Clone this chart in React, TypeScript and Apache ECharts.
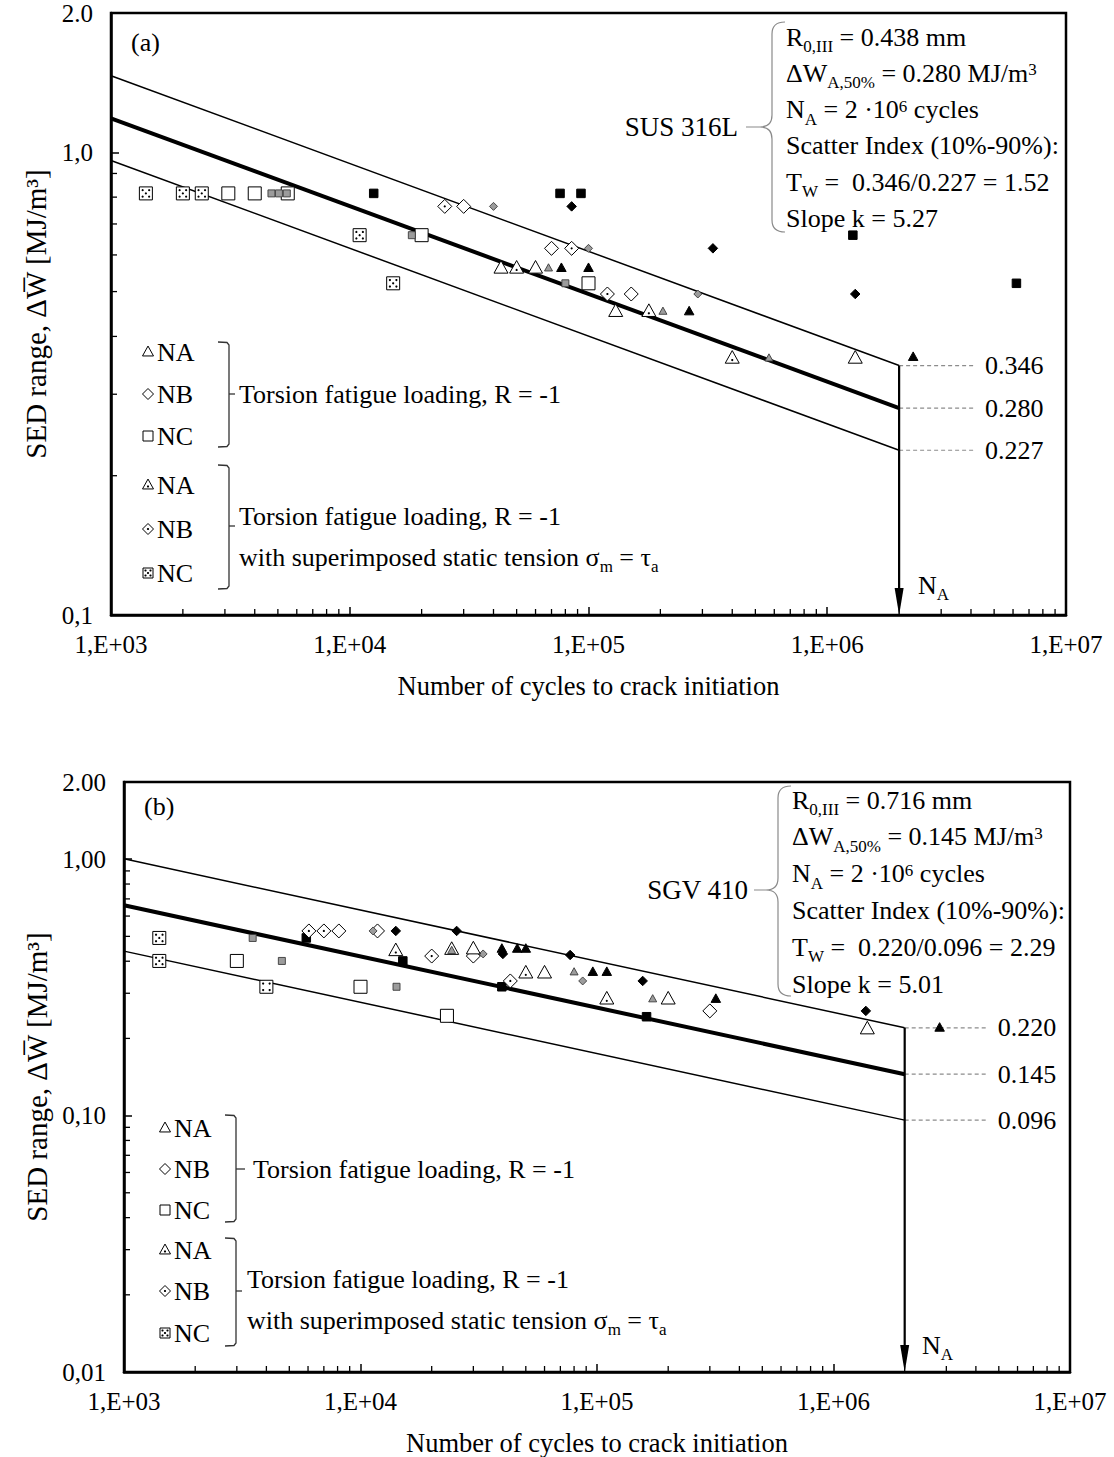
import React, { useEffect, useRef } from "react";
import * as echarts from "echarts";

const FONT = "'Liberation Serif', 'Times New Roman', Times, serif";

// ---------- shared axis data ----------
const X_MIN = 1e3;
const X_MAX = 1e7;
const X_TICK_LABELS = ["1,E+03", "1,E+04", "1,E+05", "1,E+06", "1,E+07"];
const X_DECADES = [1e3, 1e4, 1e5, 1e6];
const MINOR_MULTS = [2, 3, 4, 5, 6, 7, 8, 9];
const N_A = 2e6;

// ---------- panel (a) SUS 316L ----------
const A_Y_MIN = 0.1;
const A_Y_MAX = 2.0;
const A_Y_TICK_VALUES = [0.1, 1, 2];
const A_Y_TICK_LABELS = ["0,1", "1,0", "2.0"];
const A_Y_DECADES = [0.1];
const A_LEVELS = [0.346, 0.28, 0.227];
const A_LEVEL_LABELS = ["0.346", "0.280", "0.227"];
const A_DASH_END = 4.16e6;
const A_UPPER = [[1e3, 1.464], [2e6, 0.346]];
const A_MEDIAN = [[1e3, 1.184], [2e6, 0.28]];
const A_LOWER = [[1e3, 0.96], [2e6, 0.227]];

const aOpenTri = [[4.3e4, 0.562], [6.0e4, 0.562], [1.3e5, 0.453], [1.31e6, 0.359]];
const aDotTri = [[5.0e4, 0.562], [1.79e5, 0.453], [4.0e5, 0.359]];
const aGrayTri = [[6.8e4, 0.562], [2.05e5, 0.453], [5.7e5, 0.359]];
const aBlackTri = [[7.7e4, 0.562], [1.0e5, 0.562], [2.64e5, 0.453], [2.29e6, 0.361]];
const aOpenDia = [[3.0e4, 0.764], [7.0e4, 0.62], [1.51e5, 0.494]];
const aDotDia = [[2.5e4, 0.764], [8.5e4, 0.62], [1.2e5, 0.494]];
const aGrayDia = [[4.0e4, 0.764], [1.0e5, 0.62], [2.87e5, 0.494]];
const aBlackDia = [[8.5e4, 0.764], [3.32e5, 0.62], [1.31e6, 0.494]];
const aOpenSq = [[3.1e3, 0.815], [4.0e3, 0.815], [5.5e3, 0.815], [2.0e4, 0.662], [1.0e5, 0.521]];
const aDotSq = [[1.4e3, 0.815], [2.0e3, 0.815], [2.4e3, 0.815], [1.1e4, 0.662], [1.52e4, 0.521]];
const aGraySq = [[4.7e3, 0.815], [5.05e3, 0.815], [5.45e3, 0.815], [1.82e4, 0.662], [8.0e4, 0.521]];
const aBlackSq = [[1.26e4, 0.815], [7.6e4, 0.815], [9.3e4, 0.815], [1.28e6, 0.662], [6.2e6, 0.521]];

// ---------- panel (b) SGV 410 ----------
const B_Y_MIN = 0.01;
const B_Y_MAX = 2.0;
const B_Y_TICK_VALUES = [0.01, 0.1, 1, 2];
const B_Y_TICK_LABELS = ["0,01", "0,10", "1,00", "2.00"];
const B_Y_DECADES = [0.01, 0.1];
const B_LEVELS = [0.22, 0.145, 0.096];
const B_LEVEL_LABELS = ["0.220", "0.145", "0.096"];
const B_DASH_END = 4.49e6;
const B_UPPER = [[1e3, 1.003], [2e6, 0.22]];
const B_MEDIAN = [[1e3, 0.661], [2e6, 0.145]];
const B_LOWER = [[1e3, 0.438], [2e6, 0.096]];

const bOpenSq = [[3.0e3, 0.401], [1.0e4, 0.318], [2.32e4, 0.245]];
const bDotSq = [[1.41e3, 0.493], [1.41e3, 0.401], [4.0e3, 0.318]];
const bGraySq = [[3.5e3, 0.493], [4.65e3, 0.401], [1.42e4, 0.318]];
const bBlackSq = [[5.9e3, 0.493], [1.51e4, 0.401], [3.96e4, 0.318], [1.62e5, 0.243]];
const bOpenDia = [[8.1e3, 0.525], [1.18e4, 0.525], [3.0e4, 0.419], [3.0e5, 0.256]];
const bDotDia = [[6.05e3, 0.525], [7.0e3, 0.525], [2.0e4, 0.419], [4.3e4, 0.335]];
const bGrayDia = [[1.13e4, 0.525], [3.3e4, 0.427], [8.7e4, 0.335]];
const bBlackDia = [[1.41e4, 0.525], [2.55e4, 0.525], [4.0e4, 0.427], [7.7e4, 0.423], [1.56e5, 0.335], [1.37e6, 0.256]];
const bOpenTri = [[2.43e4, 0.445], [3.0e4, 0.447], [6.0e4, 0.36], [2.0e5, 0.285], [1.39e6, 0.218]];
const bDotTri = [[1.41e4, 0.44], [5.0e4, 0.36], [1.1e5, 0.285]];
const bGrayTri = [[2.43e4, 0.44], [8.0e4, 0.363], [1.72e5, 0.285]];
const bBlackTri = [[3.96e4, 0.447], [4.6e4, 0.447], [5.0e4, 0.447], [9.6e4, 0.363], [1.1e5, 0.363], [3.18e5, 0.285], [2.81e6, 0.22]];

// ---------- marker drawing ----------
const KINDS: Record<string, { size: number; fill: string; stroke: string; lw: number }> = {
  open: { size: 14, fill: "#fff", stroke: "#000", lw: 1 },
  dot: { size: 14, fill: "#fff", stroke: "#000", lw: 1 },
  gray: { size: 8, fill: "#9c9c9c", stroke: "#3a3a3a", lw: 0.9 },
  black: { size: 9.5, fill: "#000", stroke: "#000", lw: 1 },
};

function markerEl(shape: string, kind: string, x: number, y: number, sizeOverride?: number): any {
  const k = KINDS[kind];
  const s = sizeOverride ?? k.size;
  const st = { fill: k.fill, stroke: k.stroke, lineWidth: k.lw };
  const ch: any[] = [];
  const dot = (cx: number, cy: number) => ({ type: "circle", shape: { cx, cy, r: 1.1 }, style: { fill: "#000" } });
  if (shape === "tri") {
    const h = s * 0.9;
    ch.push({ type: "polygon", shape: { points: [[x, y - h * 0.6], [x - s / 2, y + h * 0.4], [x + s / 2, y + h * 0.4]] }, style: st });
    if (kind === "dot") ch.push(dot(x, y + h * 0.15));
  } else if (shape === "dia") {
    const r = s / 2;
    ch.push({ type: "polygon", shape: { points: [[x, y - r], [x + r, y], [x, y + r], [x - r, y]] }, style: st });
    if (kind === "dot") ch.push(dot(x, y));
  } else {
    const r = (s - 1) / 2;
    ch.push({ type: "rect", shape: { x: x - r, y: y - r, width: 2 * r, height: 2 * r }, style: st });
    if (kind === "dot") {
      const o = r * 0.5;
      ch.push(dot(x - o, y - o), dot(x + o, y - o), dot(x, y), dot(x - o, y + o), dot(x + o, y + o));
    }
  }
  return { type: "group", children: ch };
}

function markerSeries(ax: number, shape: string, kind: string, data: number[][]) {
  return {
    type: "custom",
    xAxisIndex: ax,
    yAxisIndex: ax,
    z: 5,
    silent: true,
    data,
    renderItem: (_p: any, api: any) => {
      const c = api.coord([api.value(0), api.value(1)]);
      return markerEl(shape, kind, c[0], c[1]);
    },
  };
}

function lineSeries(ax: number, data: number[][], width: number) {
  return {
    type: "line",
    xAxisIndex: ax,
    yAxisIndex: ax,
    z: 3,
    silent: true,
    symbol: "none",
    data,
    lineStyle: { color: "#000", width },
  };
}

function xMinorSeries(ax: number, yMin: number) {
  const data: number[][] = [];
  X_DECADES.forEach((d) => MINOR_MULTS.forEach((m) => data.push([d * m, yMin])));
  return {
    type: "custom",
    xAxisIndex: ax,
    yAxisIndex: ax,
    z: 6,
    silent: true,
    data,
    renderItem: (_p: any, api: any) => {
      const c = api.coord([api.value(0), api.value(1)]);
      return { type: "line", shape: { x1: c[0], y1: c[1], x2: c[0], y2: c[1] - 6 }, style: { stroke: "#000", lineWidth: 1.3 } };
    },
  };
}

function yMinorSeries(ax: number, decades: number[]) {
  const data: number[][] = [];
  decades.forEach((d) => MINOR_MULTS.forEach((m) => data.push([X_MIN, d * m])));
  return {
    type: "custom",
    xAxisIndex: ax,
    yAxisIndex: ax,
    z: 6,
    silent: true,
    data,
    renderItem: (_p: any, api: any) => {
      const c = api.coord([api.value(0), api.value(1)]);
      return { type: "line", shape: { x1: c[0], y1: c[1], x2: c[0] + 6, y2: c[1] }, style: { stroke: "#000", lineWidth: 1.3 } };
    },
  };
}

function levelSeries(ax: number, levels: number[], labels: string[], dashEnd: number) {
  return {
    type: "custom",
    xAxisIndex: ax,
    yAxisIndex: ax,
    z: 4,
    silent: true,
    data: levels.map((v) => [N_A, v]),
    renderItem: (p: any, api: any) => {
      const c = api.coord([api.value(0), api.value(1)]);
      const e = api.coord([dashEnd, api.value(1)]);
      return {
        type: "group",
        children: [
          { type: "line", shape: { x1: c[0], y1: c[1], x2: e[0], y2: e[1] }, style: { stroke: "#8c8c8c", lineWidth: 1.2, lineDash: [4, 3] } },
          {
            type: "text",
            x: e[0] + 10,
            y: e[1],
            style: { text: labels[p.dataIndex], fill: "#000", font: `26px ${FONT}`, align: "left", verticalAlign: "middle", textAlign: "left", textVerticalAlign: "middle" },
          },
        ],
      };
    },
  };
}

function arrowSeries(ax: number, top: number, yMin: number) {
  return {
    type: "custom",
    xAxisIndex: ax,
    yAxisIndex: ax,
    z: 4,
    silent: true,
    data: [[N_A, top]],
    renderItem: (_p: any, api: any) => {
      const a = api.coord([api.value(0), api.value(1)]);
      const b = api.coord([api.value(0), yMin]);
      return {
        type: "group",
        children: [
          { type: "line", shape: { x1: a[0], y1: a[1], x2: b[0], y2: b[1] - 20 }, style: { stroke: "#000", lineWidth: 2.2 } },
          { type: "polygon", shape: { points: [[b[0] - 4.5, b[1] - 27], [b[0] + 4.5, b[1] - 27], [b[0], b[1]]] }, style: { fill: "#000" } },
        ],
      };
    },
  };
}

// ---------- annotations ----------
const RICH: any = {
  n: { fontSize: 26, fontFamily: FONT, fill: "#000", color: "#000", lineHeight: 36 },
  s: { fontSize: 17, fontFamily: FONT, fill: "#000", color: "#000", verticalAlign: "bottom", lineHeight: 18 },
  p: { fontSize: 17, fontFamily: FONT, fill: "#000", color: "#000", verticalAlign: "top", lineHeight: 18, padding: [6, 0, 0, 0] },
};

function txt(x: number, y: number, text: string, align = "left", rich = false, size = 26): any {
  return {
    type: "text",
    x,
    y,
    silent: true,
    style: {
      text,
      fill: "#000",
      font: `${size}px ${FONT}`,
      align,
      verticalAlign: "middle",
      rich: rich ? RICH : undefined,
    },
  };
}

const A_BOX_LINES = [
  "{n|R}{s|0,III}{n| = 0.438 mm}",
  "{n|\u0394W}{s|A,50%}{n| = 0.280 MJ/m}{p|3}",
  "{n|N}{s|A}{n| = 2 \u00B710}{p|6}{n| cycles}",
  "{n|Scatter Index (10%-90%):}",
  "{n|T}{s|W}{n| =  0.346/0.227 = 1.52}",
  "{n|Slope k = 5.27}",
];
const B_BOX_LINES = [
  "{n|R}{s|0,III}{n| = 0.716 mm}",
  "{n|\u0394W}{s|A,50%}{n| = 0.145 MJ/m}{p|3}",
  "{n|N}{s|A}{n| = 2 \u00B710}{p|6}{n| cycles}",
  "{n|Scatter Index (10%-90%):}",
  "{n|T}{s|W}{n| =  0.220/0.096 = 2.29}",
  "{n|Slope k = 5.01}",
];
const LEGEND_NAMES = ["NA", "NB", "NC"];
const LEGEND_SHAPES = ["tri", "dia", "sq"];
const LEGEND_TEXT_1 = "Torsion fatigue loading, R = -1";
const LEGEND_TEXT_2 = "{n|with superimposed static tension \u03C3}{s|m}{n| = \u03C4}{s|a}";

const BRACE_A = "M785 22 Q772 22 772 34 L772 115 Q772 127 760 127 Q772 127 772 139 L772 220 Q772 232 785 232 M746 127 L760 127";
const BRACE_B = "M791 786 Q778 786 778 798 L778 878 Q778 890 766 890 Q778 890 778 902 L778 984 Q778 996 791 996 M754 890 L766 890";
echarts.graphic.registerShape("braceA", echarts.graphic.extendPath(BRACE_A, {}) as any);
echarts.graphic.registerShape("braceB", echarts.graphic.extendPath(BRACE_B, {}) as any);

function bracket(x: number, y1: number, y2: number, ym: number, tick = 6): any[] {
  const st = { stroke: "#333", lineWidth: 1.3, fill: "none" };
  return [
    { type: "polyline", silent: true, shape: { points: [[x - 11, y1], [x - 2, y1 + 0.5], [x, y1 + 3], [x, y2 - 3], [x - 2, y2 - 0.5], [x - 11, y2]] }, style: st },
    { type: "line", silent: true, shape: { x1: x, y1: ym, x2: x + tick, y2: ym }, style: st },
  ];
}

function legendGroup(mx: number, ys: number[], kind: string): any[] {
  const els: any[] = [];
  ys.forEach((y, i) => {
    els.push({ ...markerEl(LEGEND_SHAPES[i], kind, mx, y, 11), silent: true });
    els.push(txt(mx + 9, y, LEGEND_NAMES[i]));
  });
  return els;
}

function yFormatter(values: number[], labels: string[]) {
  return (v: number) => {
    let best = 0;
    values.forEach((t, i) => {
      if (Math.abs(Math.log10(t) - Math.log10(v)) < Math.abs(Math.log10(values[best]) - Math.log10(v))) best = i;
    });
    return labels[best];
  };
}

function xAxis(gi: number) {
  return {
    type: "log",
    logBase: 10,
    gridIndex: gi,
    min: X_MIN,
    max: X_MAX,
    name: "Number of cycles to crack initiation",
    nameLocation: "middle",
    nameGap: 57,
    nameTextStyle: { fontFamily: FONT, fontSize: 26.5, color: "#000" },
    axisLine: { lineStyle: { color: "#000", width: 2.5 } },
    axisTick: { inside: true, length: 8, lineStyle: { color: "#000", width: 1.5 } },
    axisLabel: {
      fontFamily: FONT,
      fontSize: 25,
      color: "#000",
      margin: 17,
      formatter: (v: number) => X_TICK_LABELS[Math.round(Math.log10(v)) - 3],
    },
    splitLine: { show: false },
  };
}

function yAxis(gi: number, min: number, max: number, vals: number[], labels: string[]) {
  return {
    type: "log",
    logBase: 10,
    gridIndex: gi,
    min,
    max,
    name: "SED range, \u0394W\u0305 [MJ/m\u00B3]",
    nameLocation: "middle",
    nameGap: 56,
    nameTextStyle: { fontFamily: FONT, fontSize: 29, color: "#000" },
    axisLine: { lineStyle: { color: "#000", width: 2.5 } },
    axisTick: { inside: true, length: 8, lineStyle: { color: "#000", width: 1.5 } },
    axisLabel: { fontFamily: FONT, fontSize: 25, color: "#000", margin: 18, formatter: yFormatter(vals, labels) },
    splitLine: { show: false },
  };
}

function buildOption(): any {
  const grids = [
    { left: 111, top: 13, width: 955, height: 602, show: true, borderColor: "#000", borderWidth: 2.5, backgroundColor: "transparent" },
    { left: 124, top: 782, width: 946, height: 592, show: true, borderColor: "#000", borderWidth: 2.5, backgroundColor: "transparent" },
  ];
  const series: any[] = [
    lineSeries(0, A_UPPER, 1.5),
    lineSeries(0, A_MEDIAN, 4),
    lineSeries(0, A_LOWER, 1.5),
    levelSeries(0, A_LEVELS, A_LEVEL_LABELS, A_DASH_END),
    arrowSeries(0, A_LEVELS[0], A_Y_MIN),
    xMinorSeries(0, A_Y_MIN),
    yMinorSeries(0, A_Y_DECADES),
    markerSeries(0, "sq", "open", aOpenSq),
    markerSeries(0, "sq", "dot", aDotSq),
    markerSeries(0, "sq", "gray", aGraySq),
    markerSeries(0, "sq", "black", aBlackSq),
    markerSeries(0, "dia", "open", aOpenDia),
    markerSeries(0, "dia", "dot", aDotDia),
    markerSeries(0, "dia", "gray", aGrayDia),
    markerSeries(0, "dia", "black", aBlackDia),
    markerSeries(0, "tri", "open", aOpenTri),
    markerSeries(0, "tri", "dot", aDotTri),
    markerSeries(0, "tri", "gray", aGrayTri),
    markerSeries(0, "tri", "black", aBlackTri),

    lineSeries(1, B_UPPER, 1.5),
    lineSeries(1, B_MEDIAN, 4),
    lineSeries(1, B_LOWER, 1.5),
    levelSeries(1, B_LEVELS, B_LEVEL_LABELS, B_DASH_END),
    arrowSeries(1, B_LEVELS[0], B_Y_MIN),
    xMinorSeries(1, B_Y_MIN),
    yMinorSeries(1, B_Y_DECADES),
    markerSeries(1, "sq", "open", bOpenSq),
    markerSeries(1, "sq", "dot", bDotSq),
    markerSeries(1, "sq", "gray", bGraySq),
    markerSeries(1, "sq", "black", bBlackSq),
    markerSeries(1, "dia", "open", bOpenDia),
    markerSeries(1, "dia", "dot", bDotDia),
    markerSeries(1, "dia", "gray", bGrayDia),
    markerSeries(1, "dia", "black", bBlackDia),
    markerSeries(1, "tri", "open", bOpenTri),
    markerSeries(1, "tri", "dot", bDotTri),
    markerSeries(1, "tri", "gray", bGrayTri),
    markerSeries(1, "tri", "black", bBlackTri),
  ];

  const braceStyle = { stroke: "#8a8a8a", lineWidth: 1.2, fill: "none" };
  const graphics: any[] = [
    // panel (a)
    txt(131, 42, "(a)"),
    txt(738, 127, "SUS 316L", "right", false, 27),
    { type: "braceA", silent: true, x: 0, y: 0, style: braceStyle },
    ...A_BOX_LINES.map((l, i) => txt(786, 37 + i * 36.3, l, "left", true)),
    ...legendGroup(148, [352, 394, 436], "open"),
    ...bracket(229, 342, 447, 394),
    txt(239, 394, LEGEND_TEXT_1),
    ...legendGroup(148, [485, 529, 573], "dot"),
    ...bracket(229, 465, 589, 526),
    txt(239, 516, LEGEND_TEXT_1),
    txt(239, 557, LEGEND_TEXT_2, "left", true),
    txt(918, 585, "{n|N}{s|A}", "left", true),
    // panel (b)
    txt(144, 806, "(b)"),
    txt(748, 890, "SGV 410", "right", false, 27),
    { type: "braceB", silent: true, x: 0, y: 0, style: braceStyle },
    ...B_BOX_LINES.map((l, i) => txt(792, 800 + i * 36.8, l, "left", true)),
    ...legendGroup(165, [1128, 1169, 1210], "open"),
    ...bracket(236, 1115, 1222, 1169, 9),
    txt(253, 1169, LEGEND_TEXT_1),
    ...legendGroup(165, [1250, 1291, 1333], "dot"),
    ...bracket(236, 1238, 1346, 1291),
    txt(247, 1279, LEGEND_TEXT_1),
    txt(247, 1320, LEGEND_TEXT_2, "left", true),
    txt(922, 1345, "{n|N}{s|A}", "left", true),
  ];

  return {
    animation: false,
    backgroundColor: "#fff",
    textStyle: { fontFamily: FONT },
    grid: grids,
    xAxis: [xAxis(0), xAxis(1)],
    yAxis: [yAxis(0, A_Y_MIN, A_Y_MAX, A_Y_TICK_VALUES, A_Y_TICK_LABELS), yAxis(1, B_Y_MIN, B_Y_MAX, B_Y_TICK_VALUES, B_Y_TICK_LABELS)],
    series,
    graphic: { elements: graphics },
  };
}

export default function App() {
  const ref = useRef<HTMLDivElement>(null);
  useEffect(() => {
    document.body.style.margin = "0";
    const chart = echarts.init(ref.current as HTMLDivElement, null, { renderer: "svg" });
    chart.setOption(buildOption());
    return () => chart.dispose();
  }, []);
  return <div ref={ref} style={{ width: 1114, height: 1457, background: "#fff" }} />;
}
